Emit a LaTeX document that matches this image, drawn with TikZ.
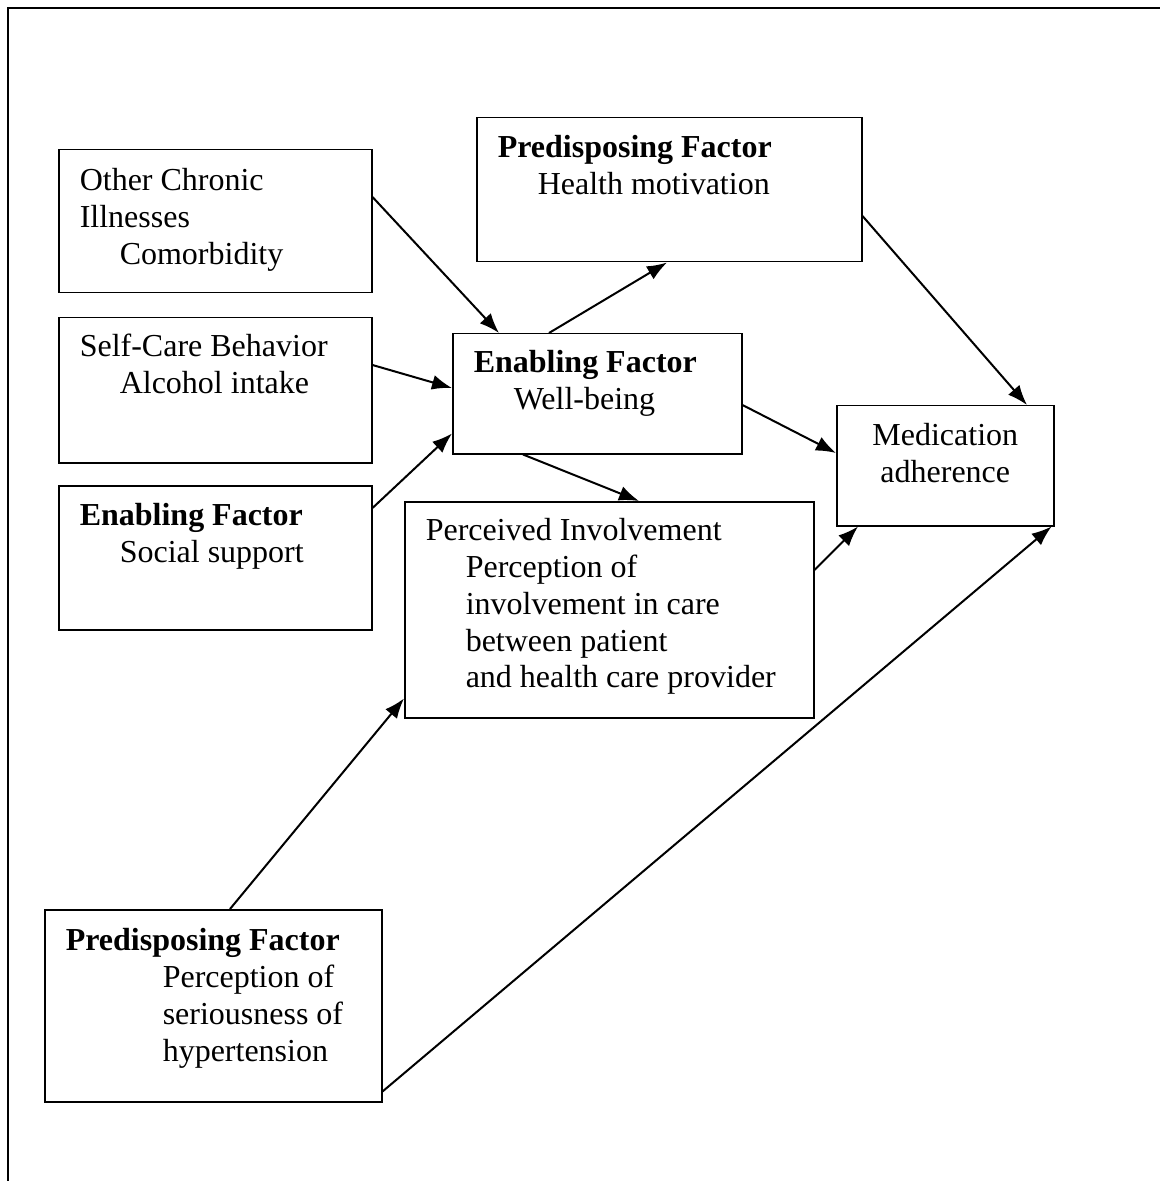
\documentclass[tikz,border=0pt]{standalone}
\usepackage{fontspec}
\setmainfont{Liberation Serif}
\usepackage{tikz}
\usetikzlibrary{arrows.meta,calc}
\def\bxt#1#2#3#4#5{\parbox[c][#2][t]{#1}{\leftskip=#3\rule{0pt}{#4}#5}}
\def\ind{\hspace*{20pt}}
\begin{document}
\begin{tikzpicture}[x=0.5pt,y=-0.5pt,
  bx/.style={draw, line width=0.75pt, inner sep=0pt, anchor=north west, font=\fontsize{16}{18.4}\selectfont},
  lnk/.style={-{Latex[length=10pt,width=7.5pt]}, line width=1pt}]
\useasboundingbox (0,0) rectangle (1160,1181);
\draw[line width=1pt] (8,1181)--(8,8)--(1160,8);
% left column
\node[bx] (oci) at (58,149) {\bxt{156.5pt}{71.5pt}{10.5pt}{20.5pt}{Other Chronic\\Illnesses\\\ind Comorbidity}};
\node[bx] (scb) at (58,317) {\bxt{156.5pt}{72.5pt}{10.5pt}{19.5pt}{Self-Care Behavior\\\ind Alcohol intake}};
\node[bx] (ssu) at (58,485) {\bxt{156.5pt}{72pt}{10.5pt}{20pt}{\textbf{Enabling Factor}\\\ind Social support}};
\node[bx] (pse) at (44,909) {\bxt{168.5pt}{96pt}{10.5pt}{20.5pt}{\textbf{Predisposing Factor}\\\hspace*{48.5pt}Perception of\\\hspace*{48.5pt}seriousness of\\\hspace*{48.5pt}hypertension}};
% middle
\node[bx] (hmo) at (476,117) {\bxt{192.5pt}{72pt}{10.5pt}{20pt}{\textbf{Predisposing Factor}\\\ind Health motivation}};
\node[bx] (wbe) at (452,333) {\bxt{144.5pt}{60pt}{10.5pt}{19.5pt}{\textbf{Enabling Factor}\\\ind Well-being}};
\node[bx] (pin) at (404,501) {\bxt{204.5pt}{108pt}{10.5pt}{19.5pt}{Perceived Involvement\\\ind Perception of\\\ind involvement in care\\\ind between patient\\\ind and health care provider}};
% right
\node[bx] (mad) at (836,405) {\parbox[c][60pt][t]{108.5pt}{\centering\rule{0pt}{20pt}Medication\\adherence}};
% arrows
\draw[lnk] ($(oci.north east)+(0,48)$) -- ($(wbe.north west)+(47,0)$);
\draw[lnk] ($(scb.north east)+(0,48)$) -- ($(wbe.north west)+(0,55)$);
\draw[lnk] ($(ssu.north east)+(0,23)$) -- ($(wbe.south west)+(0,-21)$);
\draw[lnk] ($(wbe.north west)+(97,0)$) -- ($(hmo.south west)+(191,0)$);
\draw[lnk] ($(wbe.north east)+(0,72)$) -- ($(mad.north west)+(0,48)$);
\draw[lnk] ($(wbe.south west)+(71,0)$) -- ($(pin.north west)+(235,0)$);
\draw[lnk] ($(hmo.north east)+(0,99)$) -- ($(mad.north west)+(191,0)$);
\draw[lnk] ($(pin.north east)+(0,69)$) -- ($(mad.south west)+(22,0)$);
\draw[lnk] ($(pse.north west)+(186,0)$) -- ($(pin.south west)+(0,-20)$);
\draw[lnk] ($(pse.south east)+(0,-11)$) -- ($(mad.south east)+(-3,0)$);
\end{tikzpicture}
\end{document}
